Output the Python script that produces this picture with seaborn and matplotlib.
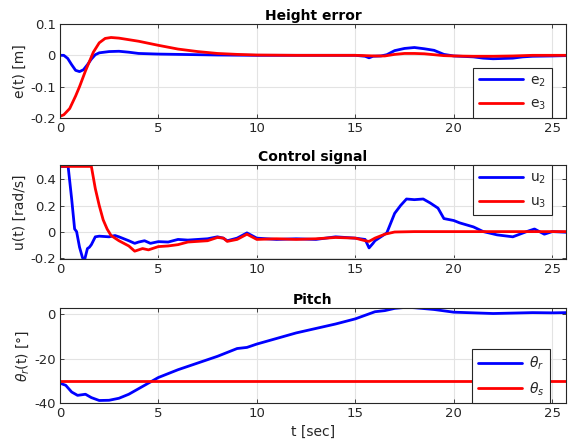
import numpy as np
import pandas as pd
import matplotlib
matplotlib.use("Agg")
import matplotlib.pyplot as plt
import seaborn as sns

# -------------------------------
# Data
# -------------------------------
t_e2 = [0, 0.2, 0.4, 0.6, 0.8, 1.0, 1.2, 1.4, 1.6, 1.8, 2.0, 2.5, 3.0, 3.5, 4.0, 5.0,
        6.0, 8.0, 10.0, 12.0, 15.0, 15.5, 15.7, 15.9, 16.3, 16.6, 17.0, 17.5, 18.0,
        18.5, 19.0, 19.5, 20.0, 21.0, 21.5, 22.0, 23.0, 23.5, 24.0, 25.0, 25.7]
e2 = [0, 0, -0.01, -0.03, -0.048, -0.052, -0.046, -0.03, -0.012, 0.002, 0.008, 0.012,
      0.013, 0.01, 0.006, 0.004, 0.003, 0.001, 0, 0, 0, -0.003, -0.008, -0.003, -0.002,
      0.002, 0.015, 0.022, 0.025, 0.021, 0.016, 0.003, -0.002, -0.005, -0.009, -0.011,
      -0.009, -0.005, -0.003, -0.002, -0.001]

t_e3 = [0, 0.2, 0.5, 0.8, 1.0, 1.3, 1.5, 1.7, 2.0, 2.3, 2.6, 3.0, 3.5, 4.0, 5.0, 6.0,
        7.0, 8.0, 9.0, 10.0, 12.0, 15.0, 16.0, 16.5, 17.0, 17.5, 18.0, 18.5, 19.0,
        19.5, 20.0, 21.0, 22.0, 23.0, 24.0, 25.7]
e3 = [-0.195, -0.19, -0.17, -0.13, -0.1, -0.05, -0.02, 0.01, 0.04, 0.054, 0.057, 0.055,
      0.05, 0.045, 0.032, 0.02, 0.012, 0.006, 0.003, 0.001, 0, 0, -0.002, -0.002,
      0.003, 0.006, 0.006, 0.005, 0.002, -0.001, -0.002, -0.003, -0.003, -0.002, 0, 0]

t_u2 = [0, 0.42, 0.6, 0.75, 0.85, 1.0, 1.15, 1.25, 1.4, 1.5, 1.6, 1.8, 2.0, 2.5, 2.8,
        3.0, 3.5, 3.8, 4.0, 4.3, 4.6, 5.0, 5.5, 6.0, 6.5, 7.0, 7.5, 8.0, 8.3, 8.5,
        9.0, 9.5, 10.0, 11.0, 12.0, 13.0, 14.0, 15.0, 15.5, 15.7, 15.9, 16.0, 16.6,
        17.0, 17.3, 17.6, 18.0, 18.45, 18.8, 19.2, 19.5, 20.0, 20.3, 21.0, 21.5,
        22.2, 23.0, 23.7, 24.1, 24.6, 25.0, 25.7]
u2 = [0.5, 0.5, 0.25, 0.02, 0.0, -0.12, -0.2, -0.22, -0.13, -0.12, -0.1, -0.04, -0.035,
      -0.04, -0.03, -0.04, -0.07, -0.09, -0.08, -0.07, -0.09, -0.077, -0.08, -0.06,
      -0.065, -0.06, -0.055, -0.04, -0.05, -0.07, -0.05, -0.01, -0.05, -0.06, -0.055,
      -0.06, -0.04, -0.05, -0.06, -0.125, -0.09, -0.07, -0.01, 0.14, 0.2, 0.25, 0.245,
      0.25, 0.22, 0.18, 0.1, 0.085, 0.067, 0.036, 0.0, -0.025, -0.04, 0.0, 0.02,
      -0.02, 0.0, -0.005]

t_u3 = [0, 1.6, 1.8, 2.0, 2.2, 2.4, 2.6, 3.0, 3.5, 3.8, 4.2, 4.5, 5.0, 5.5, 6.0, 6.5,
        7.0, 7.5, 8.0, 8.3, 8.5, 9.0, 9.5, 10.0, 11.0, 12.0, 13.0, 14.0, 15.0, 15.5,
        15.7, 16.0, 16.5, 17.0, 18.0, 25.7]
u3 = [0.5, 0.5, 0.33, 0.2, 0.09, 0.02, -0.03, -0.07, -0.11, -0.15, -0.13, -0.14, -0.115,
      -0.11, -0.1, -0.08, -0.075, -0.07, -0.045, -0.05, -0.075, -0.06, -0.02, -0.06,
      -0.055, -0.06, -0.055, -0.045, -0.05, -0.07, -0.075, -0.05, -0.02, -0.003, 0, 0]

t_th = [0, 0.3, 0.6, 0.9, 1.3, 1.6, 2.0, 2.5, 3.0, 3.5, 4.0, 4.5, 5.0, 6.0, 7.0, 8.0,
        9.0, 9.5, 10.0, 11.0, 12.0, 13.0, 14.0, 15.0, 16.0, 16.5, 17.0, 17.6, 18.0,
        19.0, 20.0, 21.0, 22.0, 23.0, 24.0, 25.0, 25.7]
theta_r = [-31, -32, -35, -36.5, -36, -37.5, -38.8, -38.7, -37.8, -36, -33.5, -31, -28.5,
           -25, -22, -19, -15.5, -15, -13.5, -11, -8.5, -6.5, -4.5, -2.2, 1, 1.5, 2.5,
           3, 2.8, 2, 0.8, 0.5, 0.2, 0.4, 0.6, 0.5, 0.6]
t_ths = [0, 25.7]
theta_s = [-30, -30]

# -------------------------------
# Style
# -------------------------------
sns.set_theme(style="whitegrid")
plt.rcParams['font.family'] = ['DejaVu Sans']
dark = '#262626'
plt.rcParams.update({
    'axes.edgecolor': dark, 'axes.linewidth': 0.8,
    'xtick.color': dark, 'ytick.color': dark,
    'xtick.labelcolor': dark, 'ytick.labelcolor': dark,
    'axes.labelcolor': dark, 'grid.color': '#e3e3e3', 'grid.linewidth': 0.8,
    'xtick.direction': 'in', 'ytick.direction': 'in',
})

fig = plt.figure(figsize=(5.7, 4.45), dpi=100)
left, width = 0.105, 0.888
ax1 = fig.add_axes([left, 0.735, width, 0.211])
ax2 = fig.add_axes([left, 0.418, width, 0.211])
ax3 = fig.add_axes([left, 0.094, width, 0.214])

lw = 2


def draw(ax, t, y, color, label):
    sns.lineplot(x=t, y=y, ax=ax, color=color, lw=lw, label=label,
                 sort=False, estimator=None)


draw(ax1, t_e2, e2, (0, 0, 1), 'e$_2$')
draw(ax1, t_e3, e3, (1, 0, 0), 'e$_3$')
draw(ax2, t_u2, u2, (0, 0, 1), 'u$_2$')
draw(ax2, t_u3, u3, (1, 0, 0), 'u$_3$')
draw(ax3, t_th, theta_r, (0, 0, 1), r'$\theta_r$')
draw(ax3, t_ths, theta_s, (1, 0, 0), r'$\theta_s$')

ax1.set_ylim(-0.2, 0.1)
ax1.set_yticks([-0.2, -0.1, 0, 0.1])
ax1.set_yticklabels(['-0.2', '-0.1', '0', '0.1'])
ax2.set_ylim(-0.21, 0.51)
ax2.set_yticks([-0.2, 0, 0.2, 0.4])
ax2.set_yticklabels(['-0.2', '0', '0.2', '0.4'])
ax3.set_ylim(-40, 2.7)
ax3.set_yticks([-40, -20, 0])
ax3.set_yticklabels(['-40', '-20', '0'])

titles = ['Height error', 'Control signal', 'Pitch']
ylabels = ['e(t) [m]', 'u(t) [rad/s]', r'$\theta_r$(t) [°]']
legend_locs = [('lower right', (0.972, 0.0)), ('upper right', (0.972, 1.0)),
               ('lower right', (0.968, 0.0))]

for ax, title, ylab, (loc, anchor) in zip([ax1, ax2, ax3], titles, ylabels, legend_locs):
    ax.set_xlim(0, 25.7)
    ax.set_xticks([0, 5, 10, 15, 20, 25])
    ax.set_xticklabels(['0', '5', '10', '15', '20', '25'])
    ax.tick_params(axis='both', labelsize=9.5, length=3, width=0.6,
                   right=True, top=True, left=True, bottom=True, pad=3)
    ax.set_title(title, fontsize=10, fontweight='bold', color='black', pad=3)
    ax.set_ylabel(ylab, fontsize=10, labelpad=2.5)
    ax.set_xlabel('')
    for s in ax.spines.values():
        s.set_visible(True)
        s.set_color(dark)
    leg = ax.legend(loc=loc, bbox_to_anchor=anchor, fontsize=10, frameon=True,
                    fancybox=False, framealpha=1, edgecolor=dark, handlelength=3.2,
                    borderaxespad=0, borderpad=0.4, labelspacing=0.6,
                    handletextpad=0.5)
    leg.get_frame().set_linewidth(0.8)
    for txt in leg.get_texts():
        txt.set_color(dark)

ax3.set_xlabel('t [sec]', fontsize=10, labelpad=3)

fig.savefig('out.png', dpi=100)
